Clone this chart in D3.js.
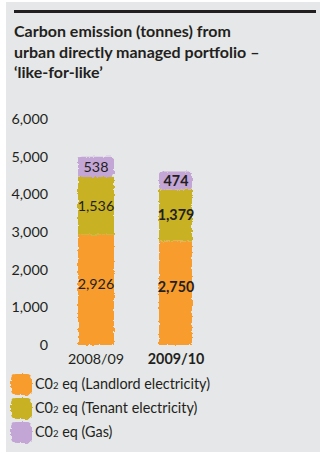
<!DOCTYPE html>
<html><head><meta charset="utf-8">
<script src="https://cdn.jsdelivr.net/npm/d3@7/dist/d3.min.js"></script>
<style>
html,body{margin:0;padding:0;background:#fff;}
svg{display:block;}
text{font-family:Lato, "Open Sans", sans-serif;fill:#231f20;}
</style></head><body>
<script>
const titleLines = ["Carbon emission (tonnes) from", "urban directly managed portfolio \u2013", "\u2018like-for-like\u2019"];
const years = ["2008/09", "2009/10"];
const seriesNames = ["Landlord electricity", "Tenant electricity", "Gas"];
const landlord = [2926, 2750];
const tenant = [1536, 1379];
const gas = [538, 474];
const yTicks = [0, 1000, 2000, 3000, 4000, 5000, 6000];
const colors = ["#f89c2e", "#c8b120", "#c3a5d6"];

const W = 320, H = 456;
const svg = d3.select("body").append("svg").attr("width", W).attr("height", H);

const defs = svg.append("defs");
const f = defs.append("filter").attr("id", "rough").attr("x", "-10%").attr("y", "-10%").attr("width", "120%").attr("height", "120%");
f.append("feTurbulence").attr("type", "fractalNoise").attr("baseFrequency", 0.35).attr("numOctaves", 2).attr("seed", 3).attr("result", "n");
f.append("feDisplacementMap").attr("in", "SourceGraphic").attr("in2", "n").attr("scale", 3.5).attr("xChannelSelector", "R").attr("yChannelSelector", "G");

// panel
svg.append("rect").attr("x", 6).attr("y", 2).attr("width", W - 6).attr("height", 450).attr("fill", "#e6e7e8");
svg.append("rect").attr("x", 14).attr("y", 10).attr("width", 302).attr("height", 3).attr("fill", "#231f20");

svg.append("g").selectAll("text").data(titleLines).join("text")
  .attr("x", 14).attr("y", (d, i) => 37 + i * 20.5)
  .attr("font-size", 16).attr("font-weight", 700).text(d => d);

const y = d3.scaleLinear().domain([0, 6000]).range([345, 119]);
const x = d3.scaleBand().domain(years).range([58, 214]).paddingInner(0.55).paddingOuter(0.25);

const yAxis = d3.axisLeft(y).tickValues(yTicks).tickFormat(d3.format(",")).tickSize(0).tickPadding(0);
const ya = svg.append("g").attr("transform", "translate(48,0)").call(yAxis);
ya.select(".domain").remove();
ya.selectAll("text").attr("font-size", 14.3).attr("font-family", "Lato, sans-serif").attr("fill", "#231f20");

const xAxis = d3.axisBottom(x).tickSize(0).tickPadding(0);
const xa = svg.append("g").attr("transform", "translate(0,354)").call(xAxis);
xa.select(".domain").remove();
xa.selectAll("text").attr("font-size", 14.3).attr("font-family", "Lato, sans-serif").attr("fill", "#231f20")
  .attr("font-weight", (d, i) => i === 1 ? 700 : 400);

const table = years.map((yr, i) => ({year: yr, s0: landlord[i], s1: tenant[i], s2: gas[i]}));
const stack = d3.stack().keys(["s0", "s1", "s2"])(table);

const bars = svg.append("g").attr("filter", "url(#rough)");
stack.forEach((layer, li) => {
  bars.selectAll(null).data(layer).join("rect")
    .attr("x", d => x(d.data.year) + (d.data.year === years[1] ? 1 : 0))
    .attr("width", d => x.bandwidth() - (d.data.year === years[1] ? 3 : 0))
    .attr("y", d => y(d[1]))
    .attr("height", d => y(d[0]) - y(d[1]))
    .attr("rx", li === 2 ? 3 : 0)
    .attr("fill", colors[li]);
});
// rounded bottoms
bars.selectAll(null).data(stack[0]).join("rect")
  .attr("x", d => x(d.data.year) + (d.data.year === years[1] ? 1 : 0))
  .attr("width", d => x.bandwidth() - (d.data.year === years[1] ? 3 : 0))
  .attr("y", d => y(d[0]) - 12).attr("height", 12).attr("rx", 6).attr("fill", colors[0]);

const lab = svg.append("g");
stack.forEach((layer, li) => {
  lab.selectAll(null).data(layer).join("text")
    .attr("x", d => x(d.data.year) + x.bandwidth() / 2)
    .attr("y", d => (y(d[0]) + y(d[1])) / 2 + (li === 0 ? -6 : 0))
    .attr("dy", "0.35em").attr("text-anchor", "middle")
    .attr("font-size", 14.3)
    .attr("font-weight", d => d.data.year === years[1] ? 700 : 400)
    .text(d => d3.format(",")(d[1] - d[0]));
});

const leg = svg.append("g").attr("transform", "translate(10,380)");
const items = leg.selectAll("g").data(seriesNames).join("g").attr("transform", (d, i) => `translate(0,${i * 24})`);
items.append("rect").attr("x", 1).attr("y", -6).attr("width", 21).attr("height", 21).attr("rx", 5)
  .attr("fill", (d, i) => colors[i]).attr("filter", "url(#rough)");
const t = items.append("text").attr("x", 25).attr("y", 9).attr("font-size", 14.4);
t.append("tspan").text("C0");
t.append("tspan").attr("font-size", 9.5).text("2");
t.append("tspan").text(d => ` eq (${d})`);
</script>
</body></html>
